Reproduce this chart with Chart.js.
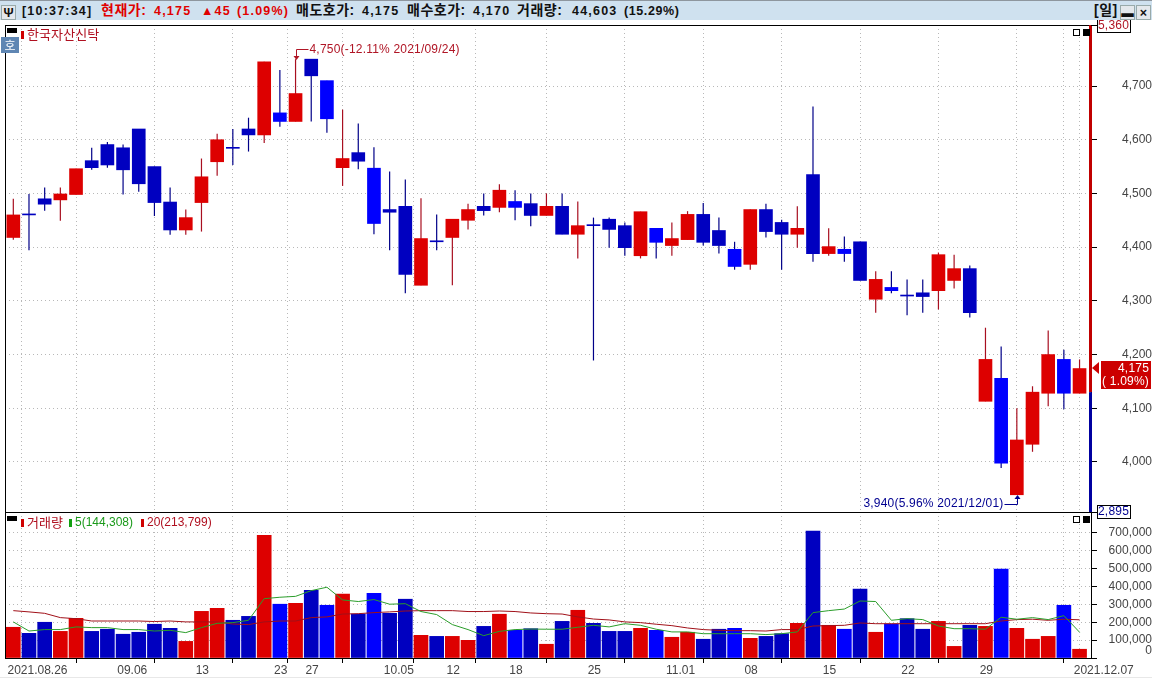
<!DOCTYPE html>
<html lang="ko">
<head>
<meta charset="utf-8">
<title>한국자산신탁</title>
<script src="https://cdn.jsdelivr.net/npm/chart.js@4/dist/chart.umd.min.js"></script>
<style>
    html, body { margin: 0; padding: 0; background: #fff; overflow: hidden; }
    body { width: 1152px; height: 678px; position: relative; font-family: "Liberation Sans", "Noto Sans CJK KR", sans-serif; }
    canvas { position: absolute; left: 0; }
    #priceChart { top: 0; }
    #volumeChart { top: 512px; }
    #header { position: absolute; left: 0; top: 0; width: 1152px; height: 19px; background: #cfe1ef; border-top: 1px solid #8e969e; }
    #header span { position: absolute; top: 3px; font-size: 12.5px; font-weight: bold; line-height: 14px; white-space: nowrap; color: #111; letter-spacing: 1.2px; }
    #header .ko { font-size: 14px; letter-spacing: 0.5px; top: 2px; }
    #header .up { color: #e00000; }
    #header .btn { top: 4px; width: 13px; height: 13px; background: #e4e8ec; border: 1px solid #9aa; text-align: center; letter-spacing: 0; }
    .pane-label { position: absolute; font-size: 12px; line-height: 14px; white-space: nowrap; color: #b01020; }
    .pane-label.ko { font-family: "Noto Sans CJK KR", sans-serif; font-size: 13px; letter-spacing: 0.1px; }
    .pane-label.green { color: #1a9a1a; }
    .mark { position: absolute; width: 3px; height: 8px; background: #d00000; }
    .mark.green { background: #10a010; }
    .tab { position: absolute; width: 10px; height: 5px; background: #000; left: 7px; }
    .icon { position: absolute; width: 5px; height: 5px; border: 1px solid #000; }
    .icon.dark { background: #000; }
    #hoBtn { position: absolute; left: 1px; top: 37px; width: 18px; height: 16px; background: #5f86b3; color: #fff; font: 12px/16px "Noto Sans CJK KR", sans-serif; text-align: center; }
    #strip { position: absolute; left: 0; top: 677px; width: 1152px; height: 1px; background: #e8e8e8; }
</style>
</head>
<body>
<canvas id="priceChart" width="1152" height="520"></canvas>
<canvas id="volumeChart" width="1152" height="166"></canvas>

<div id="header">
    <span class="btn" style="left:1px;">Ψ</span>
    <span style="left:22px;">[10:37:34]</span>
    <span class="ko up" style="left:101px;">현재가:</span>
    <span class="up" style="left:154px;">4,175</span>
    <span class="up" style="left:201px;">▲45</span>
    <span class="up" style="left:237px;">(1.09%)</span>
    <span class="ko" style="left:296px;">매도호가:</span>
    <span style="left:362px;">4,175</span>
    <span class="ko" style="left:407px;">매수호가:</span>
    <span style="left:473px;">4,170</span>
    <span class="ko" style="left:517px;">거래량:</span>
    <span style="left:572px;">44,603</span>
    <span style="left:624px; letter-spacing:0.6px;">(15.29%)</span>
    <span class="ko" style="left:1094px;">[일]</span>
    <span class="btn" style="left:1120px;">▬</span>
    <span class="btn" style="left:1136px;">×</span>
</div>

<div class="tab" style="top:28px;"></div>
<div id="hoBtn">호</div>
<div class="mark" style="left:21px; top:31px;"></div>
<div class="pane-label ko" style="left:27px; top:27px;">한국자산신탁</div>
<div class="icon" style="left:1073px; top:29px;"></div>
<div class="icon dark" style="left:1083px; top:29px;"></div>

<div class="tab" style="top:516px;"></div>
<div class="mark" style="left:21px; top:519px;"></div>
<div class="pane-label ko" style="left:27px; top:515px;">거래량</div>
<div class="mark green" style="left:69px; top:519px;"></div>
<div class="pane-label green" style="left:75px; top:515px;">5(144,308)</div>
<div class="mark" style="left:141px; top:519px;"></div>
<div class="pane-label" style="left:147px; top:515px;">20(213,799)</div>
<div class="icon" style="left:1073px; top:516px;"></div>
<div class="icon dark" style="left:1083px; top:516px;"></div>
<div id="strip"></div>

<script>
// Chart data
const opens = [4418,4460,4490,4488,4498,4561,4591,4585,4620,4550,4484,4432,4483,4559,4584,4620,4609,4650,4634,4750,4710,4548,4576,4547,4470,4476,4329,4410,4418,4450,4476,4474,4485,4481,4459,4476,4424,4440,4452,4440,4384,4435,4403,4414,4461,4431,4396,4368,4470,4446,4424,4535,4388,4396,4410,4303,4325,4309,4315,4319,4338,4360,4113,4156,3939,4033,4128,4191,4128];
const highs = [4490,4499,4511,4511,4546,4585,4596,4591,4620,4550,4511,4470,4565,4611,4620,4641,4745,4730,4750,4750,4710,4656,4630,4586,4541,4526,4491,4461,4452,4481,4500,4517,4506,4500,4500,4500,4485,4455,4455,4446,4466,4435,4446,4467,4482,4455,4410,4470,4481,4451,4476,4662,4435,4420,4410,4355,4355,4340,4340,4390,4386,4366,4250,4215,4100,4141,4245,4209,4191];
const lows = [4414,4394,4468,4449,4498,4544,4548,4498,4503,4458,4423,4423,4429,4533,4553,4578,4594,4624,4634,4634,4613,4514,4545,4424,4394,4314,4329,4394,4329,4433,4459,4465,4450,4439,4459,4424,4379,4189,4399,4384,4379,4379,4384,4414,4403,4388,4358,4358,4418,4358,4399,4373,4384,4373,4338,4278,4314,4273,4278,4284,4323,4269,4113,3989,3939,4019,4104,4098,4128];
const closes = [4460,4460,4480,4499,4546,4548,4553,4544,4518,4483,4432,4455,4531,4600,4584,4609,4745,4634,4686,4719,4639,4565,4560,4444,4465,4349,4416,4410,4452,4470,4468,4506,4474,4459,4476,4424,4440,4440,4433,4399,4466,4409,4416,4461,4409,4403,4364,4470,4429,4424,4435,4388,4401,4388,4338,4340,4319,4309,4308,4386,4360,4278,4191,3998,4041,4130,4200,4128,4174];
// u = rising, d = falling, f = falling, drawn in the lighter blue
const candleKinds = ['u','d','d','u','u','d','d','d','d','d','d','u','u','u','d','d','u','f','u','d','f','u','d','f','d','d','u','d','u','u','d','u','f','d','u','d','u','d','d','d','u','f','u','u','d','d','f','u','d','d','u','d','u','f','d','u','f','d','d','u','u','d','u','f','u','u','u','f','u'];
const volumes = [172000,138000,200000,149000,222000,149000,161000,133000,144000,189000,166000,93000,261000,278000,211000,233000,687000,301000,306000,379000,295000,357000,246000,362000,250000,329000,127000,121000,121000,99000,177000,245000,155000,164000,77000,205000,267000,194000,149000,149000,166000,155000,116000,144000,105000,161000,166000,110000,121000,136000,194000,710000,183000,161000,385000,144000,190000,220000,161000,205000,65000,183000,177000,497000,166000,105000,121000,295000,49000];
const ma5 = [202000,151000,159000,159000,174000,170000,170000,159000,159000,151000,155000,142000,170000,194000,198000,211000,332000,340000,345000,377000,396000,325000,316000,327000,301000,304000,260000,243000,187000,159000,125000,149000,159000,162000,161000,161000,172000,183000,174000,192000,183000,161000,146000,146000,136000,136000,136000,136000,131000,136000,146000,254000,265000,274000,319000,316000,211000,220000,215000,179000,164000,164000,161000,228000,217000,226000,215000,237000,144308];
const ma20 = [265000,258000,250000,226000,220000,207000,207000,207000,207000,204000,207000,202000,202000,202000,190000,187000,202000,207000,207000,226000,230000,246000,248000,254000,258000,263000,265000,265000,265000,260000,260000,263000,260000,252000,248000,246000,230000,218000,213000,202000,198000,189000,181000,168000,159000,155000,153000,153000,151000,159000,159000,179000,181000,183000,196000,192000,192000,192000,192000,192000,192000,192000,192000,207000,215000,217000,211000,217000,213799];
const priceTicks = [4000,4100,4200,4300,4400,4500,4600,4700];
const volumeTicks = [0,100000,200000,300000,400000,500000,600000,700000];
const gridIndexes = [0,2,7,12,17,19,24,28,32,37,42,47,52,57,62,67,68];
const gridLabels = ['2021.08.26','','09.06','13','23','27','10.05','12','18','25','11.01','08','15','22','29','','2021.12.07'];

const baseClose = 4130, lastClose = 4175, upperLimit = '5,360', lowerLimit = '2,895';
const maxMark = { index: 18, value: 4750, text: '4,750(-12.11% 2021/09/24)' };
const minMark = { index: 64, value: 3939, text: '3,940(5.96% 2021/12/01)' };

const RED = '#dd0000', BLUE = '#0000c0', LIGHT_BLUE = '#0000ff';
const bodyColor = k => k === 'u' ? RED : k === 'f' ? LIGHT_BLUE : BLUE;
const wickColor = k => k === 'u' ? '#a80f20' : '#000088';
const AXIS_FONT = { family: '"Liberation Sans", sans-serif', size: 12 };

// Label overhang must not move the plot area, the panes have fixed edges
function noPadding(axis) {
    axis.paddingTop = axis.paddingBottom = axis.paddingLeft = axis.paddingRight = 0;
}

function xAxis(showLabels) {
    return {
        type: 'linear',
        offset: false,
        min: -0.53,
        max: 68.73,
        afterBuildTicks: axis => { axis.ticks = gridIndexes.map(k => ({ value: k - 0.5 })); },
        afterFit: axis => { axis.height = showLabels ? 20 : 0; noPadding(axis); },
        border: { display: false, dash: [1, 3] },
        grid: {
            color: '#b8b8b8',
            drawTicks: showLabels,
            tickLength: 5,
            tickColor: c => gridLabels[c.index] ? '#000' : 'rgba(0,0,0,0)'
        },
        ticks: {
            display: showLabels,
            autoSkip: false,
            maxRotation: 0,
            align: 'start',
            labelOffset: 2,
            padding: 0,
            color: '#444',
            font: AXIS_FONT,
            callback: (v, i) => gridLabels[i]
        }
    };
}

function yAxis(min, max, tickValues, padding, label) {
    return {
        position: 'right',
        min: min,
        max: max,
        afterBuildTicks: axis => { axis.ticks = tickValues.map(v => ({ value: v })); },
        afterFit: axis => { axis.width = 61; noPadding(axis); },
        border: { display: false, dash: [1, 3] },
        grid: { color: '#b8b8b8', tickColor: '#000', tickLength: 6 },
        ticks: { crossAlign: 'far', padding: padding, color: '#444', font: AXIS_FONT, autoSkip: false, callback: label }
    };
}

function spacedText(ctx, text, x, y, align, color) {
    ctx.font = '12px "Liberation Sans", sans-serif';
    ctx.letterSpacing = '0.2px';
    ctx.textAlign = align;
    ctx.textBaseline = 'middle';
    ctx.fillStyle = color;
    ctx.fillText(text, x, y);
    ctx.letterSpacing = '0px';
}

// Black frame round a pane
const framePlugin = {
    id: 'frame',
    afterDraw(chart) {
        const { ctx, chartArea: a } = chart;
        ctx.save();
        ctx.strokeStyle = '#000';
        ctx.lineWidth = 1;
        ctx.strokeRect(Math.round(a.left) + 0.5, Math.round(a.top) + 0.5, Math.round(a.width), Math.round(a.height));
        ctx.restore();
    }
};

// Limit gauge, price tag and the high / low callouts
const pricePlugin = {
    id: 'priceMarks',
    afterDraw(chart) {
        const { ctx, chartArea: a, scales: { x, y } } = chart;
        const right = Math.round(a.right);
        const baseY = y.getPixelForValue(baseClose);
        const lastY = Math.round(y.getPixelForValue(lastClose));
        ctx.save();

        // gauge on the right edge
        ctx.fillStyle = '#c00000';
        ctx.fillRect(right - 2, a.top, 3, baseY - a.top);
        ctx.fillStyle = '#0000a0';
        ctx.fillRect(right - 2, baseY, 3, a.bottom - baseY);

        // limit boxes
        [[upperLimit, 19, 25, '#b01525'], [lowerLimit, 505, 512, '#000090']].forEach(([text, top, tickY, color]) => {
            ctx.fillStyle = '#000';
            ctx.fillRect(right, tickY, 6, 1);
            ctx.fillStyle = '#fff';
            ctx.fillRect(1097.5, top + 0.5, 33, 13);
            ctx.strokeStyle = '#000';
            ctx.lineWidth = 1;
            ctx.strokeRect(1097.5, top + 0.5, 33, 13);
            spacedText(ctx, text, 1129, top + 7, 'right', color);
        });

        // current price tag
        ctx.fillStyle = '#cc0000';
        ctx.fillRect(1101, lastY - 7, 50, 28);
        ctx.beginPath();
        ctx.moveTo(1092, lastY);
        ctx.lineTo(1099, lastY - 6);
        ctx.lineTo(1099, lastY + 6);
        ctx.closePath();
        ctx.fill();
        spacedText(ctx, '4,175', 1149, lastY + 1, 'right', '#fff');
        spacedText(ctx, '( 1.09%)', 1149, lastY + 14, 'right', '#fff');

        // high callout
        const hx = Math.round(x.getPixelForValue(maxMark.index)) + 0.5;
        const hy = Math.round(y.getPixelForValue(maxMark.value));
        ctx.strokeStyle = ctx.fillStyle = '#b01525';
        ctx.lineWidth = 1;
        ctx.beginPath();
        ctx.moveTo(hx + 12, hy - 9.5);
        ctx.lineTo(hx, hy - 9.5);
        ctx.lineTo(hx, hy - 3);
        ctx.stroke();
        ctx.beginPath();
        ctx.moveTo(hx - 3, hy - 3);
        ctx.lineTo(hx + 3, hy - 3);
        ctx.lineTo(hx, hy + 1);
        ctx.closePath();
        ctx.fill();
        spacedText(ctx, maxMark.text, hx + 13, hy - 9, 'left', '#b01525');

        // low callout
        const lx = Math.round(x.getPixelForValue(minMark.index)) + 0.5;
        const ly = Math.round(y.getPixelForValue(minMark.value));
        ctx.strokeStyle = ctx.fillStyle = '#000090';
        ctx.beginPath();
        ctx.moveTo(lx - 13, ly + 9.5);
        ctx.lineTo(lx, ly + 9.5);
        ctx.lineTo(lx, ly + 3);
        ctx.stroke();
        ctx.beginPath();
        ctx.moveTo(lx - 3, ly + 4);
        ctx.lineTo(lx + 3, ly + 4);
        ctx.lineTo(lx, ly);
        ctx.closePath();
        ctx.fill();
        spacedText(ctx, minMark.text, lx - 14, ly + 9, 'right', '#000090');
        ctx.restore();
    }
};

const commonOptions = {
    responsive: false,
    animation: false,
    devicePixelRatio: 1,
    plugins: { legend: { display: false }, tooltip: { enabled: false } }
};

new Chart(document.getElementById('priceChart'), {
    type: 'bar',
    data: {
        datasets: [
            {
                label: 'wick',
                data: lows.map((l, i) => ({ x: i, y: [l, highs[i]] })),
                backgroundColor: candleKinds.map(wickColor),
                barThickness: 1.2,
                inflateAmount: 0,
                grouped: false,
                order: 2
            },
            {
                label: 'body',
                data: opens.map((o, i) => ({ x: i, y: [o, closes[i]] })),
                backgroundColor: candleKinds.map(bodyColor),
                barThickness: 13,
                minBarLength: 1,
                grouped: false,
                order: 1
            }
        ]
    },
    options: {
        ...commonOptions,
        layout: { padding: { left: 5, top: 25, bottom: 8, right: 0 } },
        scales: {
            x: xAxis(false),
            y: yAxis(3906.9, 4813.6, priceTicks, 21, v => v.toLocaleString('en-US'))
        }
    },
    plugins: [framePlugin, pricePlugin]
});

new Chart(document.getElementById('volumeChart'), {
    data: {
        datasets: [
            {
                type: 'line',
                label: '5',
                data: ma5.map((v, i) => ({ x: i, y: v })),
                borderColor: '#2a9d2a',
                borderWidth: 1,
                pointRadius: 0,
                tension: 0,
                order: 1
            },
            {
                type: 'line',
                label: '20',
                data: ma20.map((v, i) => ({ x: i, y: v })),
                borderColor: '#a01018',
                borderWidth: 1,
                pointRadius: 0,
                tension: 0,
                order: 2
            },
            {
                type: 'bar',
                label: '거래량',
                data: volumes.map((v, i) => ({ x: i, y: v })),
                backgroundColor: candleKinds.map(bodyColor),
                barThickness: 14,
                grouped: false,
                order: 3
            }
        ]
    },
    options: {
        ...commonOptions,
        layout: { padding: { left: 5, top: 0, bottom: 0, right: 0 } },
        scales: {
            x: xAxis(true),
            // the blank second line lifts the 0 label clear of the date row
            y: yAxis(0, 817000, volumeTicks, 7, v => v === 0 ? ['0', ''] : v.toLocaleString('en-US'))
        }
    },
    plugins: [framePlugin]
});
</script>
</body>
</html>
